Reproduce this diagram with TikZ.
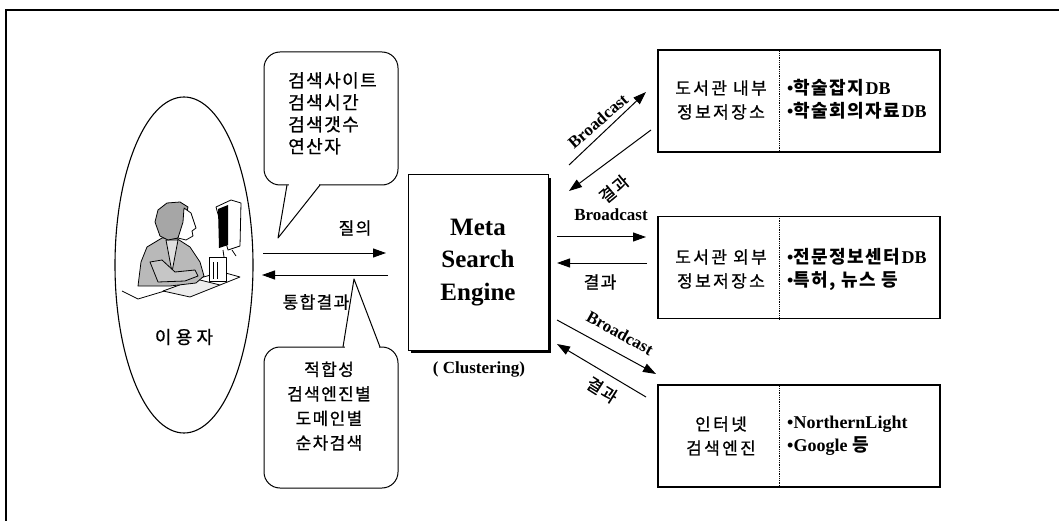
\documentclass[tikz,border=0pt]{standalone}
\usepackage{fontspec}
\setmainfont{Liberation Serif}
\newfontfamily\kr[LetterSpace=8, FakeBold=0.8]{Noto Sans CJK KR}
\newfontfamily\krbox[LetterSpace=14, FakeBold=0.8]{Noto Sans CJK KR}
\newfontfamily\krwide[LetterSpace=24, FakeBold=0.8]{Noto Sans CJK KR}
\newfontfamily\krlist[LetterSpace=8]{Noto Sans CJK KR}
\usetikzlibrary{arrows.meta,shapes.geometric,calc}

\tikzset{
  frameline/.style={line width=1.1pt},
  bubble/.style={draw, line width=1pt, rounded corners=16pt, fill=white,
    inner sep=0pt},
  repo/.style={draw, line width=1.1pt, minimum width=282pt, minimum height=102pt,
    inner sep=0pt},
  flow/.style={line width=1pt, -{Triangle[length=13pt,width=9pt]}},
  krtext/.style={font=\kr\fontsize{17}{24}\selectfont, inner sep=0pt},
  boxtext/.style={font=\krbox\fontsize{17}{24}\selectfont, inner sep=0pt, align=center},
  entext/.style={font=\bfseries\fontsize{17}{22}\selectfont, inner sep=0pt},
  listtext/.style={align=left, anchor=west, inner sep=0pt,
    font=\fontsize{18}{23}\selectfont},
  figline/.style={line width=0.8pt, line join=round},
}
\newcommand{\kb}[1]{{\krlist\bfseries #1}}

\begin{document}
\begin{tikzpicture}[x=1pt,y=-1pt]
\useasboundingbox (0,0) rectangle (1059,521);
\fill[white] (0,0) rectangle (1059,521);

% outer frame (left and top edges)
\draw[frameline] (6,521) -- (6,10) -- (1059,10);

% ---------------- user ----------------
\node[draw, ellipse, line width=1.1pt, minimum width=138pt, minimum height=336pt,
  inner sep=0pt] (user) at (184,265) {};
\node[font=\krwide\fontsize{18}{20}\selectfont, inner sep=0pt] (userlabel)
  at (184,337) {이용자};

% person at a computer
\begin{scope}
  % desk
  \draw[figline] (122,291) -- (138,299) -- (168,290);
  \draw[figline, fill=gray!15] (163,291) -- (196,279) -- (220,285) -- (190,297) -- cycle;
  \draw[figline] (196,279) -- (222,272) -- (240,277) -- (220,285);
  % computer case
  \draw[figline, fill=white] (209,257) rectangle (226,281);
  \draw[figline] (213,262) -- (213,279) (217,262) -- (217,279);
  % monitor
  \draw[figline, fill=white] (216,207) -- (231,200) -- (241,203) -- (240,246) -- (228,250) -- cycle;
  \fill (218,209) -- (228,205) -- (228,245) -- (219,248) -- cycle;
  \draw[figline] (223,250) -- (224,257) (232,250) -- (236,256);
  % torso
  \draw[figline, fill=gray!55] (138,286) -- (141,262) -- (147,247) -- (162,238) -- (176,238)
    -- (190,247) -- (200,262) -- (204,276) -- (196,283) -- (170,286) -- cycle;
  \draw[figline, fill=gray!25] (166,240) -- (172,272) -- (178,240) -- cycle;
  % arm
  \draw[figline, fill=gray!45] (150,262) -- (158,282) -- (185,281) -- (198,276) -- (195,270)
    -- (175,272) -- (162,260) -- cycle;
  % hair and face
  \draw[figline, fill=gray!70] (160,236) -- (155,222) -- (158,210) -- (167,203) -- (180,202)
    -- (188,207) -- (184,224) -- (178,238) -- (168,240) -- cycle;
  \draw[figline, fill=white] (184,208) -- (191,213) -- (194,222) -- (196,228) -- (192,231)
    -- (193,236) -- (186,240) -- (178,238) -- (183,222) -- cycle;
\end{scope}

% ---------------- speech bubbles ----------------
\node[bubble, minimum width=134pt, minimum height=133pt] (qbub) at (331,118.5) {};
\node[krtext, align=left, anchor=north west, font=\kr\fontsize{18}{22}\selectfont]
  (qtext) at (288,72) {검색사이트\\검색시간\\검색갯수\\연산자};
\coordinate (qtip) at (278,238);
\draw[white, line width=2.5pt] (288.5,185) -- (318.5,185);
\draw[line width=1pt, line join=round] (287,185) -- (qtip) -- (320,185);

\node[bubble, minimum width=134pt, minimum height=141pt] (rbub) at (331,417.5) {};
\node[krtext, align=center, font=\kr\fontsize{17}{24.5}\selectfont]
  (rtext) at (329,406) {적합성\\검색엔진별\\도메인별\\순차검색};
\coordinate (rtip) at (354,279);
\draw[white, line width=2.5pt] (344.5,347) -- (378.5,347);
\draw[line width=1pt, line join=round] (343,347) -- (rtip) -- (380,347);

% ---------------- meta search engine ----------------
\fill (411,178) rectangle (551,353);
\node[draw, fill=white, line width=1pt, minimum width=140pt, minimum height=175pt,
  inner sep=0pt, align=center, font=\bfseries\fontsize{25}{32.5}\selectfont]
  (mse) at (478,262.5) {Meta\\Search\\Engine};
\node[entext] (clus) at (479,369) {( Clustering)};

% query / merged result
\coordinate (qs) at (263,253); \coordinate (qe) at (386,253);
\coordinate (rs) at (388,275); \coordinate (re) at (262,275);
\draw[flow] (qs) -- (qe);
\draw[flow] (rs) -- (re);
\node[krtext] (qlab) at (355,228) {질의};
\node[krtext] (rlab) at (316,302) {통합결과};

% ---------------- repositories ----------------
\node[repo] (lib1) at (799,101) {};
\draw[densely dotted, line width=0.8pt] ($(lib1.north west)+(122,0)$) -- ($(lib1.south west)+(122,0)$);
\node[boxtext] (lib1a) at (721,100) {도서관 내부\\정보저장소};
\node[listtext] (lib1b) at (787,99)
  {\textbf{•}\kb{학술잡지}\textbf{DB}\\\textbf{•}\kb{학술회의자료}\textbf{DB}};

\node[repo] (lib2) at (799,267.5) {};
\draw[densely dotted, line width=0.8pt] ($(lib2.north west)+(122,0)$) -- ($(lib2.south west)+(122,0)$);
\node[boxtext] (lib2a) at (721,269) {도서관 외부\\정보저장소};
\node[listtext] (lib2b) at (787,269)
  {\textbf{•}\kb{전문정보센터}\textbf{DB}\\\textbf{•}\kb{특허, 뉴스 등}};

\node[repo] (web) at (799,436) {};
\draw[densely dotted, line width=0.8pt] ($(web.north west)+(122,0)$) -- ($(web.south west)+(122,0)$);
\node[boxtext] (weba) at (721,436) {인터넷\\검색엔진};
\node[listtext] (webb) at (787,436)
  {\textbf{•NorthernLight}\\\textbf{•Google} \kb{등}};

% ---------------- broadcast / result arrows ----------------
\coordinate (b1s) at (569,165); \coordinate (b1e) at (646,92);
\coordinate (r1s) at (651,130); \coordinate (r1e) at (569,191);
\draw[flow] (b1s) -- (b1e);
\draw[flow] (r1s) -- (r1e);
\node[entext, rotate=41] (b1lab) at (598,121) {Broadcast};
\node[krtext, rotate=40] (r1lab) at (614,189) {결과};

\coordinate (b2s) at (557,237); \coordinate (b2e) at (646,237);
\coordinate (r2s) at (647,263); \coordinate (r2e) at (557,263);
\draw[flow] (b2s) -- (b2e);
\draw[flow] (r2s) -- (r2e);
\node[entext] (b2lab) at (611,215) {Broadcast};
\node[krtext] (r2lab) at (600,282) {결과};

\coordinate (b3s) at (557,320); \coordinate (b3e) at (656,374);
\coordinate (r3s) at (646,397); \coordinate (r3e) at (557,344);
\draw[flow] (b3s) -- (b3e);
\draw[flow] (r3s) -- (r3e);
\node[entext, rotate=-29] (b3lab) at (620,333) {Broadcast};
\node[krtext, rotate=-32] (r3lab) at (602,390) {결과};

\end{tikzpicture}
\end{document}
